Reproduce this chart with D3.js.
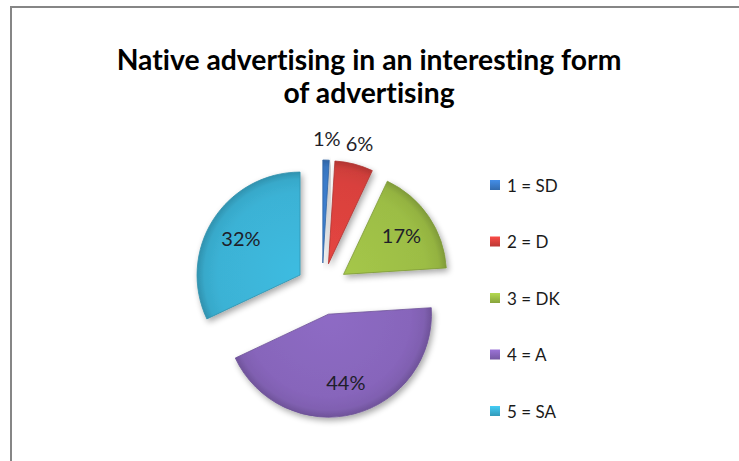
<!DOCTYPE html>
<html>
<head>
<meta charset="utf-8">
<script src="https://cdn.jsdelivr.net/npm/d3@7"></script>
<style>
  html, body { margin: 0; padding: 0; background: #fff; }
  svg { display: block; }
  svg text {
    font-variant-ligatures: none;
    font-feature-settings: "liga" 0, "clig" 0, "dlig" 0, "calt" 0;
    letter-spacing: 0.01px;
  }
</style>
</head>
<body>
<svg id="chart" width="739" height="461"></svg>
<script>
// Survey answers: "Native advertising in an interesting form of advertising"
const titleLines = ["Native advertising in an interesting form", "of advertising"];
const categories = ["1 = SD", "2 = D", "3 = DK", "4 = A", "5 = SA"];
const shares = [1, 6, 17, 44, 32];
const sliceColors = ["#3b7bc9", "#d9413d", "#9cbd45", "#8765bb", "#3bb2d5"];

const W = 739, H = 461;
const FONT = "Lato, 'Open Sans', 'Liberation Sans', sans-serif";
const svg = d3.select("#chart");
const defs = svg.append("defs");

// chart frame (only top and left edges fall inside the view)
svg.append("rect")
  .attr("x", 11).attr("y", 7)
  .attr("width", W).attr("height", H)
  .attr("fill", "#fff")
  .attr("stroke", "#868686").attr("stroke-width", 2);

// title
const title = svg.append("g")
  .attr("font-family", FONT)
  .attr("font-weight", "bold")
  .attr("fill", "#000")
  .attr("text-anchor", "middle");
const titleText = title.selectAll("text").data(titleLines).join("text")
  .attr("x", 369)
  .attr("y", (d, i) => 70 + i * 33)
  .attr("font-size", 26)
  .text(d => d);
// fit first line to its width
{
  const w = titleText.node().getComputedTextLength();
  titleText.attr("font-size", 26 * 505 / w);
}

// pie
const cx = 322, cy = 289, R = 103, explode = 26;
const pie = d3.pie().sort(null).value(d => d.v)
  .startAngle(0).endAngle(2 * Math.PI);
const data = categories.map((c, i) => ({ c, v: shares[i], col: sliceColors[i], i }));
const arcs = pie(data);
const arc = d3.arc().innerRadius(0).outerRadius(R);

// shadow filter
const shadow = defs.append("filter").attr("id", "shadow")
  .attr("x", "-20%").attr("y", "-20%").attr("width", "140%").attr("height", "140%");
shadow.append("feGaussianBlur").attr("in", "SourceAlpha").attr("stdDeviation", 3).attr("result", "b");
shadow.append("feOffset").attr("in", "b").attr("dx", 2).attr("dy", 3).attr("result", "o");
shadow.append("feComponentTransfer").attr("in", "o").attr("result", "s")
  .append("feFuncA").attr("type", "linear").attr("slope", 0.35);
const merge = shadow.append("feMerge");
merge.append("feMergeNode").attr("in", "s");
merge.append("feMergeNode").attr("in", "SourceGraphic");

// per-slice bevel-like gradient
arcs.forEach((a, i) => {
  const base = d3.color(a.data.col);
  const g = defs.append("radialGradient").attr("id", "grad" + i)
    .attr("gradientUnits", "userSpaceOnUse")
    .attr("cx", 0).attr("cy", 0).attr("r", R);
  g.append("stop").attr("offset", "0%").attr("stop-color", base.brighter(0.15));
  g.append("stop").attr("offset", "80%").attr("stop-color", base);
  g.append("stop").attr("offset", "93%").attr("stop-color", base.darker(0.15));
  g.append("stop").attr("offset", "100%").attr("stop-color", base.darker(0.55));
});

const offset = a => {
  const m = (a.startAngle + a.endAngle) / 2;
  return [explode * Math.sin(m), -explode * Math.cos(m)];
};

const slices = svg.append("g").attr("transform", `translate(${cx},${cy})`);
slices.selectAll("path").data(arcs).join("path")
  .attr("transform", a => `translate(${offset(a)})`)
  .attr("d", arc)
  .attr("fill", (a, i) => `url(#grad${i})`)
  .attr("stroke", a => d3.color(a.data.col).darker(0.6))
  .attr("stroke-width", 0.8)
  .attr("stroke-linejoin", "round")
  .attr("filter", "url(#shadow)");

// percent labels: small slices outside, others inside
const labels = svg.append("g").attr("transform", `translate(${cx},${cy})`)
  .attr("font-family", FONT)
  .attr("font-size", 20)
  .attr("fill", "#1e1e2a")
  .attr("text-anchor", "middle")
  .attr("dominant-baseline", "central");
labels.selectAll("text").data(arcs).join("text")
  .attr("transform", a => {
    const m = (a.startAngle + a.endAngle) / 2;
    const [ox, oy] = offset(a);
    const r = a.data.v < 10 ? R + 22 : 0.68 * R;
    return `translate(${ox + r * Math.sin(m)},${oy - r * Math.cos(m)})`;
  })
  .text(a => a.data.v + "%");

// legend
const legend = svg.append("g")
  .attr("font-family", FONT)
  .attr("font-size", 17)
  .attr("fill", "#1a1a1a");
const rowY = d3.scalePoint().domain(categories).range([185, 411]);
const items = legend.selectAll("g").data(data).join("g")
  .attr("transform", d => `translate(490,${rowY(d.c)})`);
items.each(function (d, i) {
  const base = d3.color(d.col);
  const lg = defs.append("linearGradient").attr("id", "lg" + i)
    .attr("x1", 0).attr("y1", 0).attr("x2", 0).attr("y2", 1);
  lg.append("stop").attr("offset", "0%").attr("stop-color", base.brighter(0.4));
  lg.append("stop").attr("offset", "100%").attr("stop-color", base.darker(0.4));
});
items.append("rect")
  .attr("x", 0).attr("y", -5).attr("width", 10).attr("height", 10)
  .attr("fill", (d, i) => `url(#lg${i})`);
items.append("text")
  .attr("x", 17).attr("y", 0)
  .attr("dominant-baseline", "central")
  .text(d => d.c);
</script>
</body>
</html>
